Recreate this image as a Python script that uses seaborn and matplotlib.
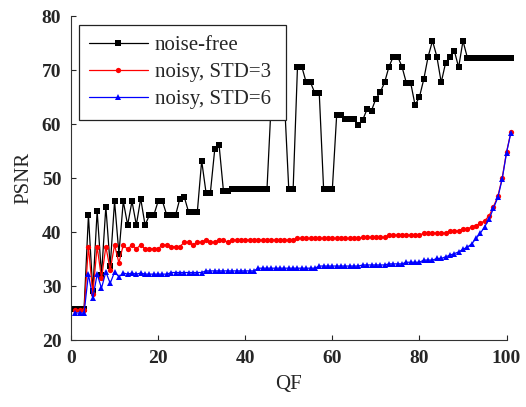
import numpy as np
import pandas as pd
import matplotlib
matplotlib.use('Agg')
import matplotlib.pyplot as plt
import seaborn as sns


##################################################################
# DATA
##################################################################

# quality factor index, 101 samples
qf = list(range(1, 102))

# PSNR without noise
noise_free = [25.8, 25.8, 25.8, 43.1, 29.0, 43.9, 32.0, 44.7, 33.7, 45.7,
              36.0, 45.7, 41.3, 45.7, 41.3, 46.2, 41.3, 43.1, 43.1, 45.7,
              45.7, 43.1, 43.1, 43.1, 46.2, 46.5, 43.7, 43.7, 43.7, 53.2,
              47.3, 47.3, 55.3, 56.1, 47.6, 47.6, 48.0, 48.0, 48.0, 48.0,
              48.0, 48.0, 48.0, 48.0, 48.0, 64.5, 68.0, 68.0, 64.5, 47.9,
              47.9, 70.6, 70.6, 67.7, 67.7, 65.7, 65.7, 47.9, 47.9, 47.9,
              61.7, 61.7, 61.0, 61.0, 61.0, 59.8, 60.8, 62.8, 62.5, 64.7,
              65.9, 67.7, 70.6, 72.5, 72.5, 70.6, 67.6, 67.6, 63.5, 65.0,
              68.3, 72.5, 75.4, 72.5, 67.7, 71.3, 72.5, 73.6, 70.5, 75.4,
              72.3, 72.3, 72.3, 72.3, 72.3, 72.3, 72.3, 72.3, 72.3, 72.3,
              72.3]

# PSNR with noise, STD=3
noisy_3 = [25.5, 25.5, 25.5, 37.3, 28.6, 37.3, 31.4, 37.3, 33.0, 37.6,
           34.3, 37.6, 36.8, 37.6, 36.9, 37.6, 36.9, 36.9, 36.9, 36.9,
           37.6, 37.6, 37.3, 37.3, 37.3, 38.1, 38.1, 37.6, 38.1, 38.1,
           38.5, 38.1, 38.1, 38.5, 38.5, 38.1, 38.5, 38.5, 38.5, 38.5,
           38.5, 38.5, 38.5, 38.5, 38.5, 38.5, 38.5, 38.5, 38.5, 38.5,
           38.5, 38.8, 38.8, 38.8, 38.8, 38.8, 38.8, 38.8, 38.8, 38.8,
           38.8, 38.8, 38.8, 38.8, 38.8, 38.8, 39.0, 39.0, 39.0, 39.0,
           39.0, 39.0, 39.4, 39.4, 39.4, 39.4, 39.4, 39.4, 39.4, 39.4,
           39.8, 39.8, 39.8, 39.8, 39.8, 39.8, 40.2, 40.2, 40.2, 40.6,
           40.6, 40.9, 41.2, 41.6, 42.1, 43.0, 44.7, 46.6, 50.0, 54.8,
           58.5]

# PSNR with noise, STD=6
noisy_6 = [25.0, 25.0, 25.0, 32.2, 27.7, 32.2, 29.6, 32.6, 30.5, 32.6,
           31.7, 32.4, 32.2, 32.4, 32.2, 32.4, 32.2, 32.2, 32.2, 32.2,
           32.2, 32.2, 32.5, 32.5, 32.5, 32.5, 32.5, 32.5, 32.5, 32.5,
           32.8, 32.8, 32.8, 32.8, 32.8, 32.8, 32.8, 32.8, 32.8, 32.8,
           32.8, 32.8, 33.3, 33.3, 33.3, 33.3, 33.3, 33.3, 33.3, 33.3,
           33.3, 33.3, 33.3, 33.3, 33.3, 33.3, 33.7, 33.7, 33.7, 33.7,
           33.7, 33.7, 33.7, 33.7, 33.7, 33.7, 33.9, 33.9, 33.9, 33.9,
           33.9, 33.9, 34.1, 34.1, 34.1, 34.1, 34.4, 34.4, 34.4, 34.4,
           34.8, 34.8, 34.8, 35.1, 35.1, 35.4, 35.7, 36.0, 36.3, 36.8,
           37.2, 37.8, 38.8, 39.8, 41.0, 42.4, 44.4, 46.4, 49.8, 54.7,
           58.4]

labels = ['noise-free', 'noisy, STD=3', 'noisy, STD=6']
colors = ['black', 'red', 'blue']
markers = ['s', 'o', '^']

x_ticks = [0, 20, 40, 60, 80, 100]
y_ticks = [20, 30, 40, 50, 60, 70, 80]


##################################################################
# PLOTTING
##################################################################

sns.set_style('ticks')
plt.rcParams['font.family'] = ['Liberation Serif', 'DejaVu Serif']

fig = plt.figure(figsize=(5.26, 4.07), dpi=100)
ax = fig.add_axes([0.135, 0.1646, 0.828, 0.796])

series = [noise_free, noisy_3, noisy_6]
for values, label, color, marker in zip(series, labels, colors, markers):
    sns.lineplot(x=qf, y=values, ax=ax, color=color, marker=marker,
                 markersize=3.8, markeredgewidth=0, linewidth=0.9,
                 label=label, clip_on=False)

ax.set_xlim(0, 100)
ax.set_ylim(20, 80)
ax.set_xticks(x_ticks)
ax.set_yticks(y_ticks)
ax.tick_params(direction='in', length=3.5, width=0.8, labelsize=14, pad=7)
for lbl in ax.get_xticklabels() + ax.get_yticklabels():
    lbl.set_fontweight('bold')

ax.set_xlabel('QF', fontsize=15, labelpad=6)
ax.set_ylabel('PSNR', fontsize=15, labelpad=6)

sns.despine(ax=ax)
for side in ['left', 'bottom']:
    ax.spines[side].set_linewidth(0.8)
    ax.spines[side].set_color('#333333')

# legend box stretched to the width used in the reference
leg = ax.legend(loc='upper left', bbox_to_anchor=(0.018, 0.5, 0.475, 0.472),
                mode='expand', borderaxespad=0, fontsize=15, fancybox=False,
                framealpha=1, edgecolor='#222222', handlelength=2.8,
                handletextpad=0.35, labelspacing=0.36, borderpad=0.5,
                numpoints=1)
leg.get_frame().set_linewidth(0.9)
leg.set_zorder(5)

plt.savefig('out.png', dpi=100)
